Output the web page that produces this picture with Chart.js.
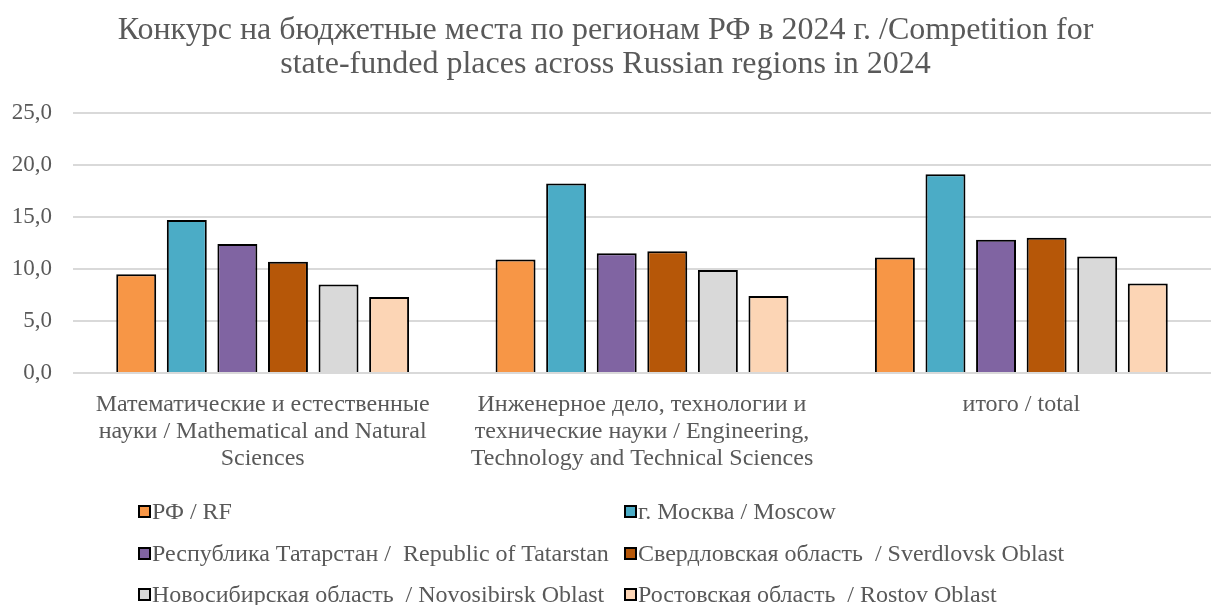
<!DOCTYPE html>
<html>
<head>
<meta charset="utf-8">
<script src="https://cdn.jsdelivr.net/npm/chart.js@4"></script>
<style>
  body { margin: 0; background: #fff; }
  #wrap { position: relative; width: 1211px; height: 605px; }
  #lg {
    position: absolute; left: 138px; top: 491px;
    display: grid; grid-template-columns: 486px 470px; grid-auto-rows: 41.5px;
    font: 24px 'Liberation Serif', 'Times New Roman', serif; color: #595959;
  }
  #lg div { display: flex; align-items: center; white-space: pre; }
  #lg i { display: inline-block; width: 9px; height: 9px; border: 2px solid #000; margin-right: 1px; }
</style>
</head>
<body>
<div id="wrap">
  <canvas id="ch" width="1211" height="605"></canvas>
  <div id="lg"></div>
</div>
<script>
const cats = [
  ['Математические и естественные', 'науки / Mathematical and Natural', 'Sciences'],
  ['Инженерное дело, технологии и', 'технические науки / Engineering,', 'Technology and Technical Sciences'],
  'итого / total'
];
const regions = [
  'РФ / RF',
  'г. Москва / Moscow',
  'Республика Татарстан /  Republic of Tatarstan',
  'Свердловская область  / Sverdlovsk Oblast',
  'Новосибирская область  / Novosibirsk Oblast',
  'Ростовская область  / Rostov Oblast'
];
const colors = ['#F79646', '#4BACC6', '#8064A2', '#B65708', '#D9D9D9', '#FCD5B5'];

const rf          = [9.5, 10.9, 11.1];
const moscow      = [14.7, 18.2, 19.1];
const tatarstan   = [12.4, 11.5, 12.8];
const sverdlovsk  = [10.7, 11.7, 13.0];
const novosibirsk = [8.5, 9.9, 11.2];
const rostov      = [7.3, 7.4, 8.6];
const series = [rf, moscow, tatarstan, sverdlovsk, novosibirsk, rostov];

const yTicks = [0, 5, 10, 15, 20, 25];

const font = 'Liberation Serif';
const txt = '#595959';
const H = 605, bottomPad = 118, plotBottom = 373;

new Chart(document.getElementById('ch'), {
  type: 'bar',
  data: {
    labels: cats,
    datasets: series.map((d, i) => ({
      label: regions[i],
      data: d,
      backgroundColor: colors[i],
      borderColor: '#000',
      borderWidth: 2,
      barPercentage: 0.79,
      categoryPercentage: 0.8,
    }))
  },
  options: {
    responsive: false,
    animation: false,
    layout: { padding: { left: 0, right: 0, top: 0, bottom: bottomPad } },
    plugins: {
      legend: { display: false },
      tooltip: { enabled: false },
      title: {
        display: true,
        text: ['Конкурс на бюджетные места по регионам РФ в 2024 г. /Competition for', 'state-funded places across Russian regions in 2024'],
        color: txt,
        font: { family: font, size: 32, weight: 'normal', lineHeight: 1.06 },
        padding: { top: 14, bottom: 31 }
      }
    },
    scales: {
      x: {
        grid: { display: false },
        border: { display: false },
        afterFit: s => { s.height = H - bottomPad - plotBottom; },
        ticks: { color: txt, font: { family: font, size: 24, lineHeight: 1.13 }, maxRotation: 0, autoSkip: false, padding: 10 }
      },
      y: {
        min: 0, max: 25,
        afterBuildTicks: s => { s.ticks = yTicks.map(v => ({ value: v })); },
        afterFit: s => { s.width = 73; },
        grid: { color: '#D9D9D9', lineWidth: 2, drawTicks: false },
        border: { display: false },
        ticks: {
          color: txt, font: { family: font, size: 23 }, padding: 21,
          callback: v => v.toFixed(1).replace('.', ',')
        }
      }
    }
  }
});

document.getElementById('lg').innerHTML = regions.map((r, i) =>
  `<div><i style="background:${colors[i]}"></i>${r}</div>`).join('');
</script>
</body>
</html>
